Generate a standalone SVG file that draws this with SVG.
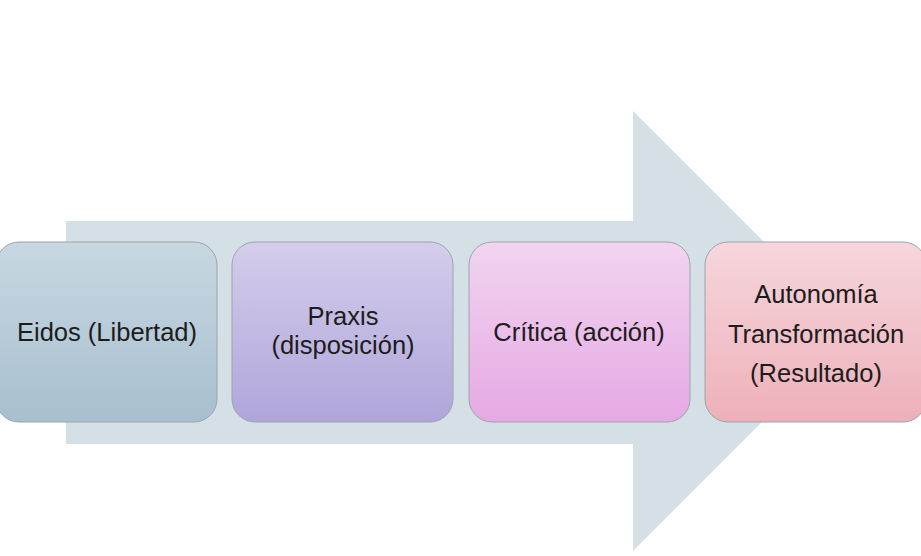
<svg xmlns="http://www.w3.org/2000/svg" width="921" height="556" viewBox="0 0 921 556">
<defs>
<linearGradient id="g1" x1="0" y1="0" x2="0" y2="1"><stop offset="0" stop-color="#c8d7e1"/><stop offset="1" stop-color="#a7bfcf"/></linearGradient>
<linearGradient id="g2" x1="0" y1="0" x2="0" y2="1"><stop offset="0" stop-color="#d4cdeb"/><stop offset="1" stop-color="#b0a5db"/></linearGradient>
<linearGradient id="g3" x1="0" y1="0" x2="0" y2="1"><stop offset="0" stop-color="#f1d4f0"/><stop offset="1" stop-color="#e6a9e3"/></linearGradient>
<linearGradient id="g4" x1="0" y1="0" x2="0" y2="1"><stop offset="0" stop-color="#f6d6dc"/><stop offset="1" stop-color="#eeb0b9"/></linearGradient>
<style>
.box{stroke:#9aa4ab;stroke-width:1}
.t{font-family:"Liberation Sans",Arial,sans-serif;font-size:25.5px;fill:#1c1c1c;text-anchor:middle}
</style>
</defs>
<rect width="921" height="556" fill="#ffffff"/>
<g id="arrow">
<polygon points="66,221 633,221 633,111 853,331 633,551 633,444 66,444" fill="#d5e0e6"/>
</g>
<g id="node1">
<rect class="box" x="-4" y="242" width="221" height="180" rx="23" fill="url(#g1)"/>
<text class="t" x="107" y="341">Eidos (Libertad)</text>
</g>
<g id="node2">
<rect class="box" x="232" y="242" width="221" height="180" rx="23" fill="url(#g2)"/>
<text class="t" x="343" y="325">Praxis</text>
<text class="t" x="343" y="354">(disposición)</text>
</g>
<g id="node3">
<rect class="box" x="469" y="242" width="221" height="180" rx="23" fill="url(#g3)"/>
<text class="t" x="579" y="341">Crítica (acción)</text>
</g>
<g id="node4">
<rect class="box" x="705" y="242" width="221" height="180" rx="23" fill="url(#g4)"/>
<text class="t" x="816" y="303">Autonomía</text>
<text class="t" x="816" y="343">Transformación</text>
<text class="t" x="816" y="382">(Resultado)</text>
</g>
</svg>
